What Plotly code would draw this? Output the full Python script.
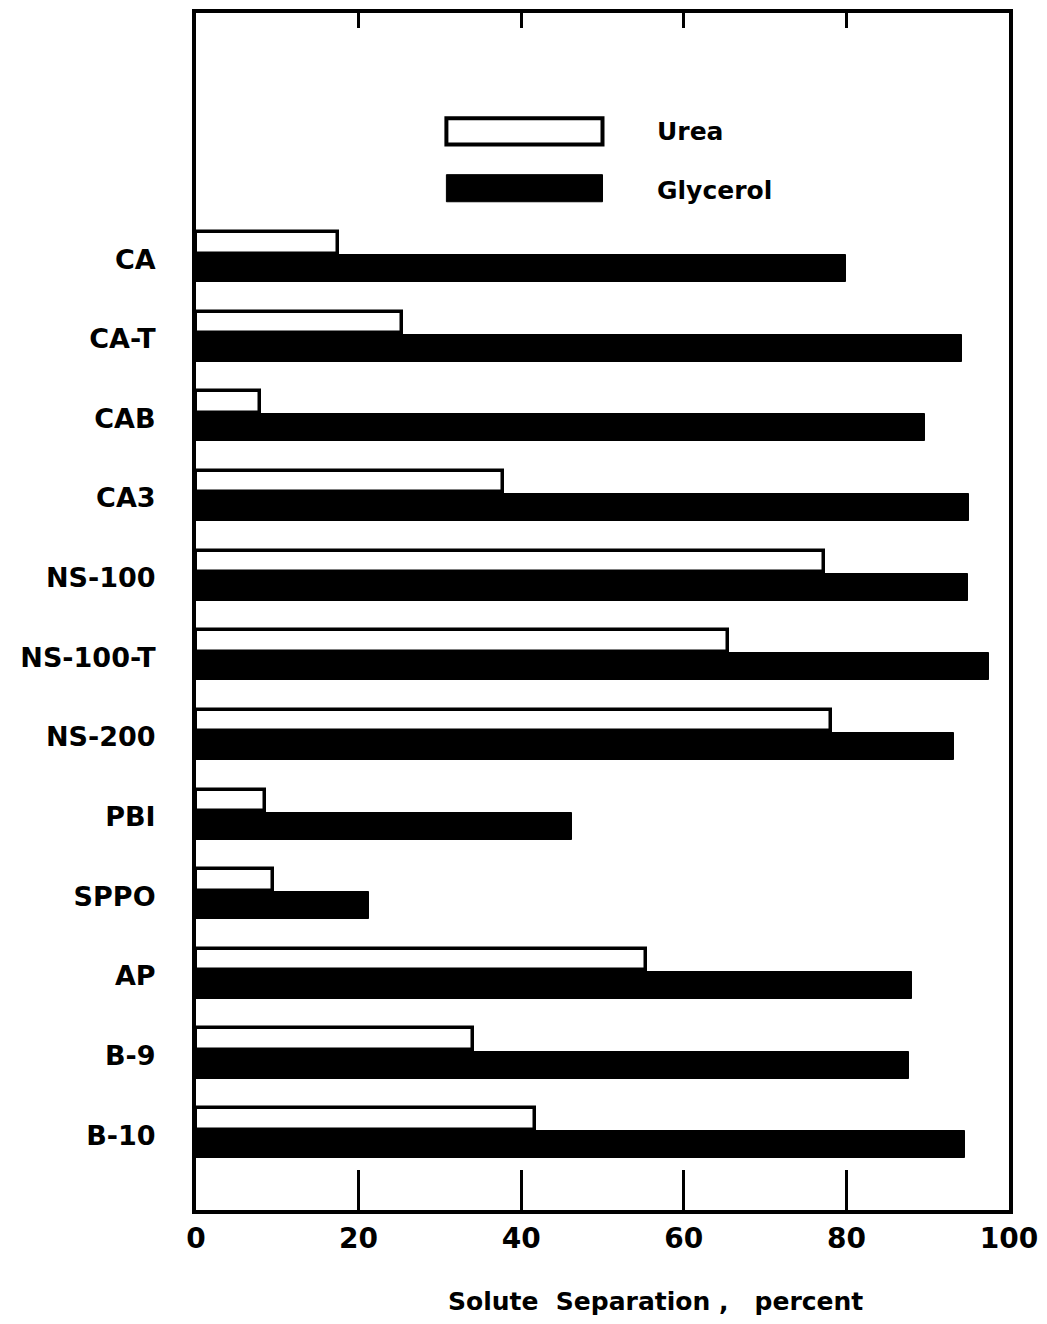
import plotly.graph_objects as go

# Membrane types, listed top to bottom
membranes = ["CA", "CA-T", "CAB", "CA3", "NS-100", "NS-100-T", "NS-200",
             "PBI", "SPPO", "AP", "B-9", "B-10"]

# Solute separation, percent
urea = [17.5, 25.3, 7.9, 37.8, 77.2, 65.4, 78.1, 8.5, 9.5, 55.3, 34.1, 41.7]
glycerol = [80.0, 94.2, 89.7, 95.1, 94.9, 97.6, 93.2, 46.3, 21.3, 88.1, 87.7, 94.6]

x_ticks = [0, 20, 40, 60, 80, 100]
x_ticktext = ["0", "20", "40", "60", "80", "100"]

FONT = "DejaVu Sans"

fig = go.Figure()

fig.add_trace(go.Bar(
    y=membranes, x=urea, orientation="h", name="Urea",
    offset=-0.34, width=0.27,
    marker=dict(color="white", line=dict(color="black", width=3.5)),
))
fig.add_trace(go.Bar(
    y=membranes, x=glycerol, orientation="h", name="Glycerol",
    offset=-0.05, width=0.34,
    marker=dict(color="black", line=dict(color="black", width=1)),
))

# Legend drawn as boxes inside the frame
fig.add_shape(type="rect", xref="x", yref="y", x0=30.8, x1=50.0,
              y0=-1.77, y1=-1.44, line=dict(color="black", width=4),
              fillcolor="white")
fig.add_shape(type="rect", xref="x", yref="y", x0=30.8, x1=50.0,
              y0=-1.06, y1=-0.72, line=dict(color="black", width=1),
              fillcolor="black")
fig.add_annotation(x=56.5, y=-1.6, xref="x", yref="y", text="<b>Urea</b>",
                   showarrow=False, xanchor="left",
                   font=dict(family=FONT, size=25, color="black"))
fig.add_annotation(x=56.5, y=-0.86, xref="x", yref="y", text="<b>Glycerol</b>",
                   showarrow=False, xanchor="left",
                   font=dict(family=FONT, size=25, color="black"))

# Axis title below the tick labels
fig.add_annotation(x=0.565, y=-0.0766, xref="paper", yref="paper",
                   text="<b>Solute  Separation ,   percent</b>",
                   showarrow=False, xanchor="center", yanchor="middle",
                   font=dict(family=FONT, size=25, color="black"))

fig.update_layout(
    width=1047, height=1324,
    margin=dict(l=196, r=30, t=9, b=114),
    paper_bgcolor="white", plot_bgcolor="white",
    barmode="overlay", bargap=0, showlegend=False,
    font=dict(family=FONT, color="black"),
    xaxis=dict(
        range=[0, 100], tickvals=x_ticks, ticktext=x_ticktext,
        ticks="inside", ticklen=40, tickwidth=2.5, tickcolor="black",
        showgrid=False, zeroline=False,
        showline=True, linewidth=4, linecolor="black", mirror=True,
        tickfont=dict(family=FONT, size=28, color="black", weight="bold"),
    ),
    xaxis2=dict(
        overlaying="x", side="top", range=[0, 100], tickvals=x_ticks,
        ticks="inside", ticklen=15, tickwidth=3, tickcolor="black",
        showticklabels=False, showgrid=False, zeroline=False,
    ),
    yaxis=dict(
        type="category", categoryorder="array", categoryarray=membranes,
        range=[11.94, -3.09], ticks="", showgrid=False, zeroline=False,
        showline=True, linewidth=4, linecolor="black", mirror=True,
        ticklabelstandoff=31,
        tickfont=dict(family=FONT, size=27, color="black", weight="bold"),
    ),
)

# Invisible trace so the top tick axis is rendered
fig.add_trace(go.Scatter(x=[0, 100], y=[membranes[0], membranes[0]],
                         xaxis="x2", mode="markers",
                         marker=dict(opacity=0), hoverinfo="skip",
                         showlegend=False))

fig.write_html("out.html")
